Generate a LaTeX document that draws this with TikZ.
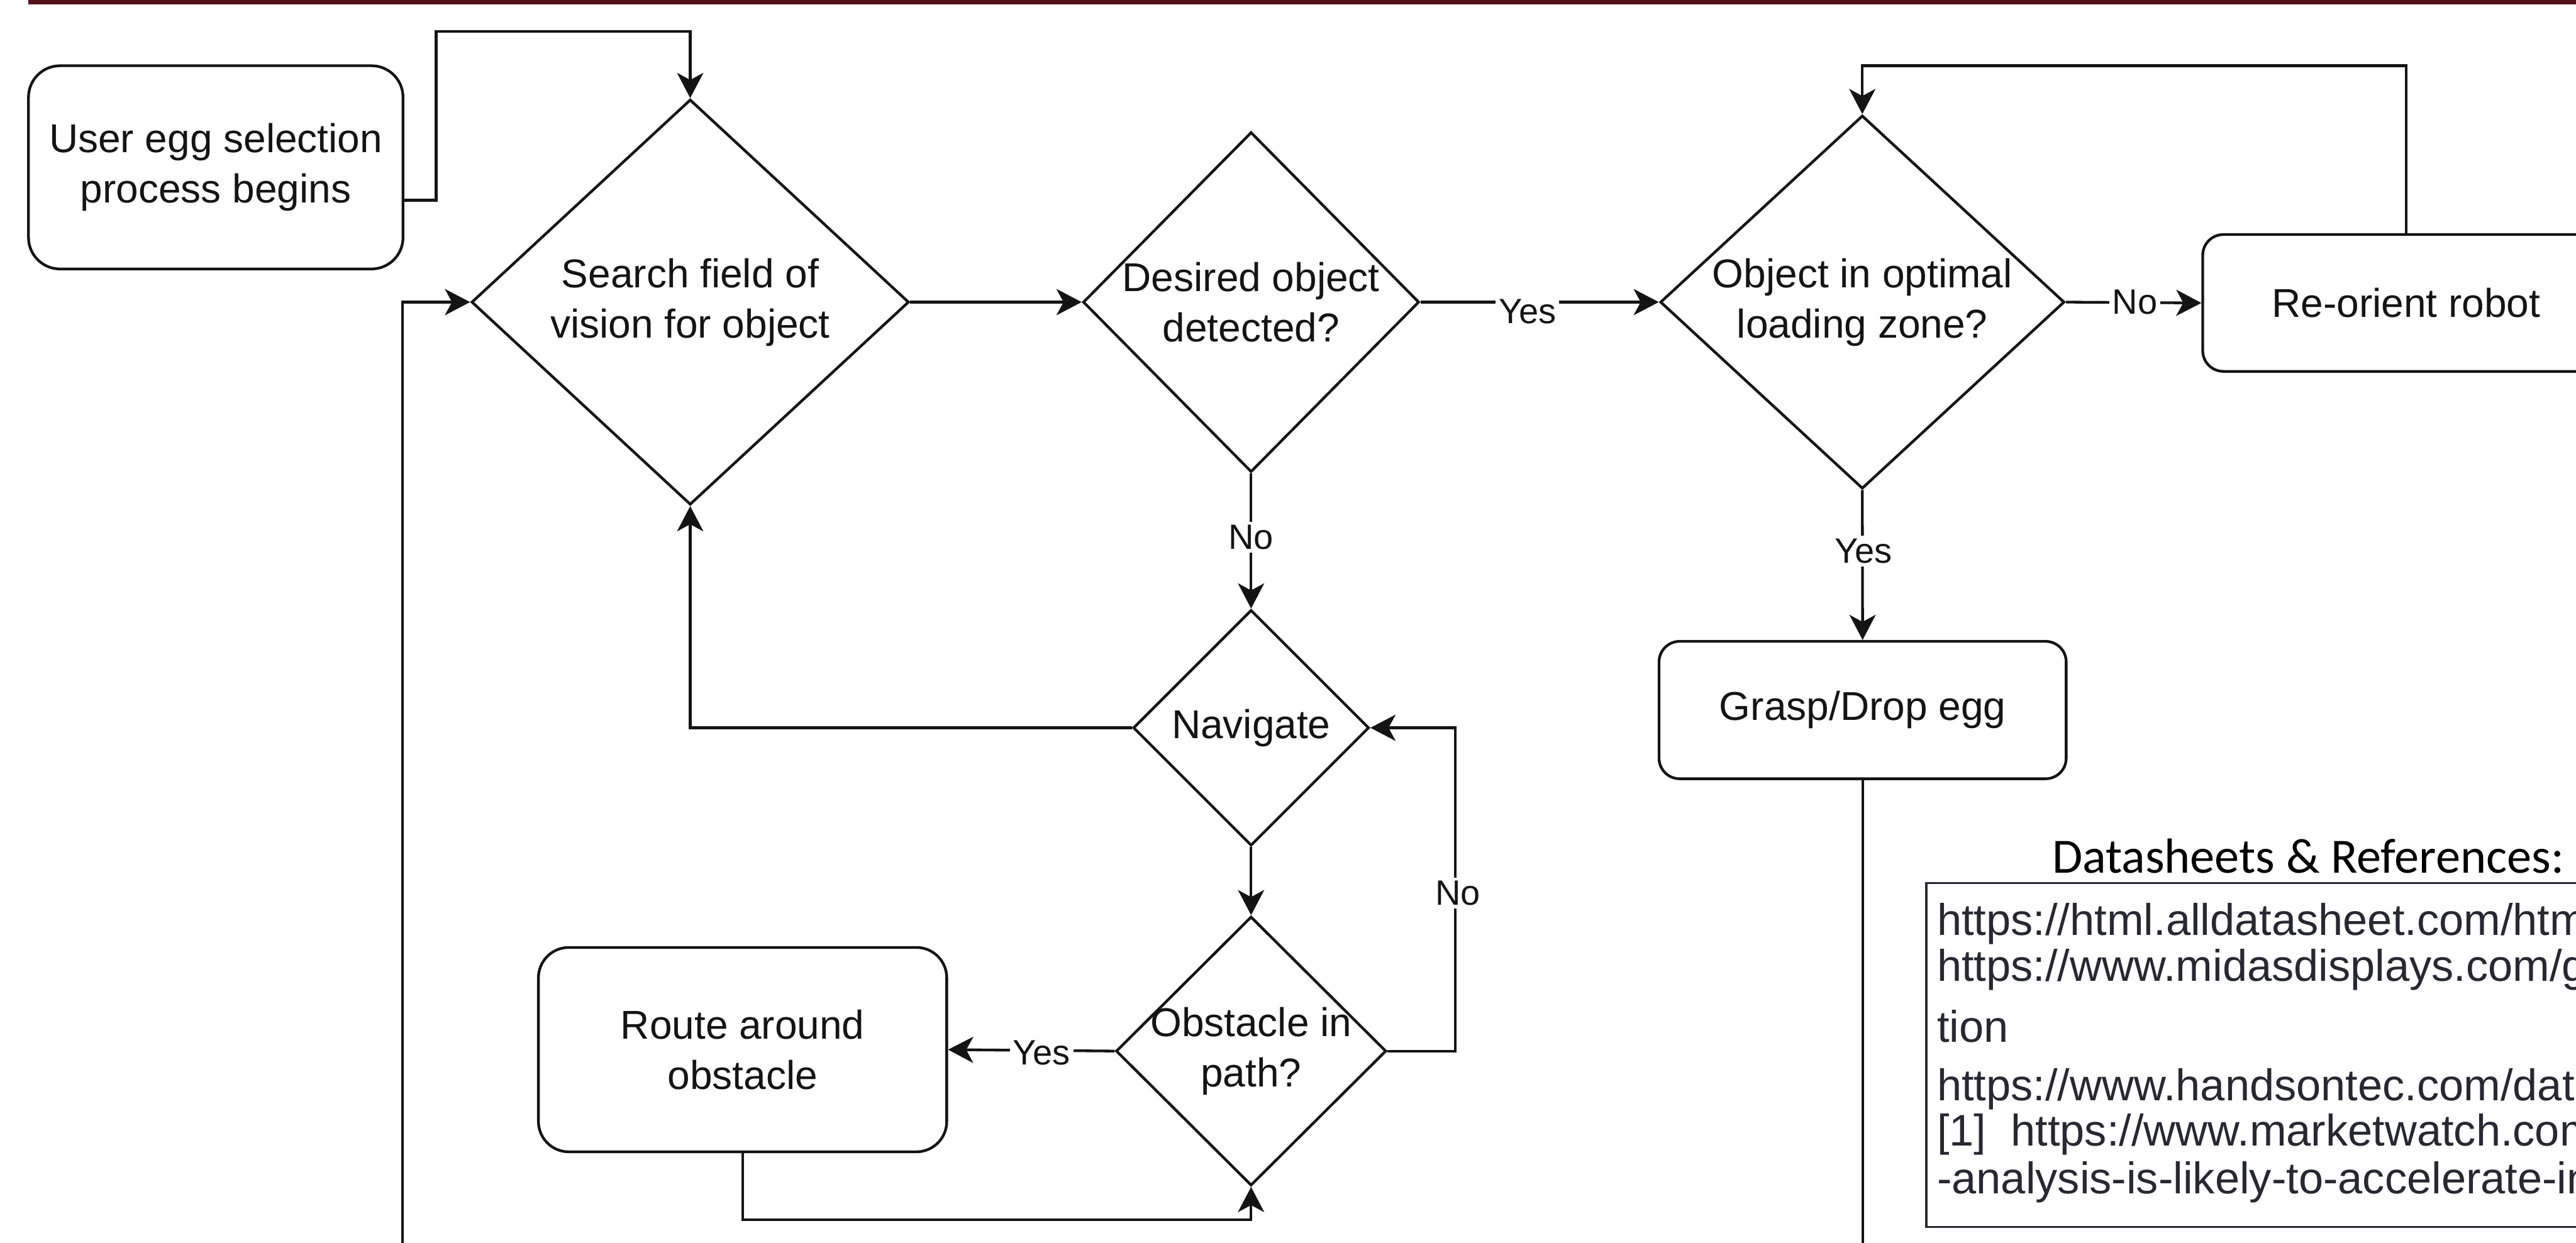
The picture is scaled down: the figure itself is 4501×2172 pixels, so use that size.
\documentclass[tikz,border=0pt]{standalone}
\usepackage{fontspec}
\setmainfont{Liberation Sans}
\newfontfamily\calib{Carlito}
\usetikzlibrary{shapes.geometric,arrows.meta}
\definecolor{barred}{RGB}{83,17,23}
\definecolor{reftxt}{RGB}{40,40,50}
\definecolor{ink}{RGB}{20,20,20}
\begin{document}
\begin{tikzpicture}[x=0.01cm,y=-0.01cm,
  lw/.style={line width=1.35pt, draw=ink},
  box/.style={lw, rectangle, inner sep=0pt, fill=white},
  dia/.style={lw, diamond, inner sep=0pt, fill=white},
  txt/.style={font=\fontsize{20}{25}\selectfont, align=center, text=ink, inner sep=0pt},
  arr/.style={lw, -{Stealth[length=12.5pt,width=13pt,inset=3.5pt]}},
  lab/.style={fill=white, inner sep=1.5pt, font=\fontsize{17.5}{20}\selectfont, text=ink},
  reftext/.style={font=\fontsize{22}{26}\selectfont, text=reftxt, anchor=base west, inner sep=0pt},
]
\useasboundingbox (0,0) rectangle (4501,2172);
\clip (0,0) rectangle (4501,2172);
\fill[barred] (49,0) rectangle (4501,7.5);

% nodes
\node[box, rounded corners=0.55cm, minimum width=6.54cm, minimum height=3.55cm] (user) at (377,292.5) {};
\node[txt] (usert) at (user) {User egg selection\\process begins};

\node[dia, minimum width=7.64cm, minimum height=7.08cm] (search) at (1206,528) {};
\node[txt] (searcht) at (search) {Search field of\\vision for object};

\node[dia, minimum width=5.87cm, minimum height=5.94cm] (desired) at (2186,528) {};
\node[txt] (desiredt) at (desired) {Desired object\\detected?};

\node[dia, minimum width=7.06cm, minimum height=6.52cm] (object) at (3254,528) {};
\node[txt] (objectt) at (object) {Object in optimal\\loading zone?};

\node[box, rounded corners=0.36cm, minimum width=7.10cm, minimum height=2.39cm] (reorient) at (4204,529.5) {};
\node[txt] (reorientt) at (reorient) {Re-orient robot};

\node[box, rounded corners=0.36cm, minimum width=7.11cm, minimum height=2.40cm] (grasp) at (3254.5,1241) {};
\node[txt] (graspt) at (grasp) {Grasp/Drop egg};

\node[dia, minimum width=4.12cm, minimum height=4.12cm] (navigate) at (2186,1272) {};
\node[txt] (navigatet) at (navigate) {Navigate};

\node[dia, minimum width=4.72cm, minimum height=4.70cm] (obstacle) at (2186,1837) {};
\node[txt] (obstaclet) at (obstacle) {Obstacle in\\path?};

\node[box, rounded corners=0.53cm, minimum width=7.13cm, minimum height=3.57cm] (route) at (1297.5,1834.5) {};
\node[txt] (routet) at (route) {Route around\\obstacle};

% references
\node[draw=reftxt, line width=1pt, minimum width=13.36cm, minimum height=6.00cm, anchor=north west, inner sep=0pt] (refs) at (3364,1542) {};
\node[font=\calib\fontsize{24.5}{29}\selectfont, anchor=base, inner sep=0pt] (refhead) at (4033,1526) {Datasheets \& References:};
\node[reftext] (r1) at (3384,1635) {https://html.alldatasheet.com/htm};
\node[reftext] (r2) at (3384,1715) {https://www.midasdisplays.com/g};
\node[reftext] (r3) at (3384,1821) {tion};
\node[reftext] (r4) at (3384,1924) {https://www.handsontec.com/data};
\node[reftext] (r5) at (3384,2003) {[1]\ \ https://www.marketwatch.com};
\node[reftext] (r6) at (3384,2086) {-analysis-is-likely-to-accelerate-in};

% coordinates
\coordinate (c1) at (762,55);
\coordinate (lb) at (703,2250);
\coordinate (rtop) at (4204,115);
\coordinate (gb) at (3254.5,2250);
\coordinate (nr) at (2543,1272);
\coordinate (rb) at (2186,2132);

% connectors
\draw[arr] ([yshift=-0.575cm]user.east) -| (c1) -| (search.north);
\draw[arr] (lb) |- (search.west);
\draw[arr] (search.east) -- (desired.west);
\draw[arr] (desired.east) -- (object.west);
\draw[arr] (object.east) -- (reorient.west);
\draw[arr] (reorient.north) -- (rtop) -| (object.north);
\draw[arr] (object.south) -- (grasp.north);
\draw[lw] (grasp.south) -- (gb);
\draw[arr] (desired.south) -- (navigate.north);
\draw[arr] (navigate.west) -| (search.south);
\draw[arr] (navigate.south) -- (obstacle.north);
\draw[arr] (obstacle.east) -| (nr) -- (navigate.east);
\draw[arr] (obstacle.west) -- (route.east);
\draw[arr] (route.south) |- (rb) -- (obstacle.south);

% labels
\node[lab] (y1) at (2669,544) {Yes};
\node[lab] (n1) at (3730,528) {No};
\node[lab] (y2) at (3256,963) {Yes};
\node[lab] (n2) at (2186,939) {No};
\node[lab] (n3) at (2547,1561) {No};
\node[lab] (y3) at (1820,1840) {Yes};
\end{tikzpicture}
\end{document}
